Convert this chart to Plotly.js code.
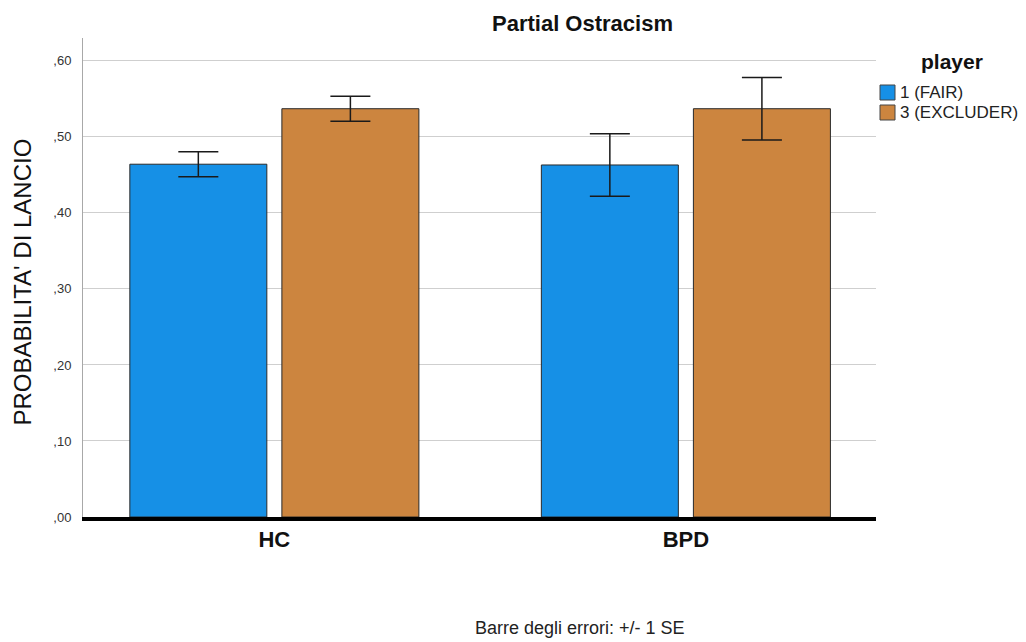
<!DOCTYPE html>
<html>
<head>
<meta charset="utf-8">
<script src="https://cdn.plot.ly/plotly-3.0.1.min.js"></script>
<style>html,body{margin:0;padding:0;background:#fff;}#chart{width:1026px;height:642px;}</style>
</head>
<body>
<div id="chart"></div>
<script>
const groups = ['HC', 'BPD'];
const seriesNames = ['1 (FAIR)', '3 (EXCLUDER)'];
const seriesColors = ['#1690e6', '#cc853f'];
const fairMeans = [0.464, 0.463];
const fairSE = [0.0165, 0.041];
const excluderMeans = [0.537, 0.537];
const excluderSE = [0.0165, 0.041];
const yTickVals = [0, 0.1, 0.2, 0.3, 0.4, 0.5, 0.6];
const yTickText = [',00', ',10', ',20', ',30', ',40', ',50', ',60'];

const FONT = 'Liberation Sans, Arial, sans-serif';
const errStyle = {type: 'data', visible: true, thickness: 1.5, width: 20, color: '#1a1a1a'};

const traces = [
  {type: 'bar', name: seriesNames[0], x: groups, y: fairMeans,
   error_y: Object.assign({array: fairSE}, errStyle),
   marker: {color: seriesColors[0], line: {color: '#2a2a2a', width: 1}}},
  {type: 'bar', name: seriesNames[1], x: groups, y: excluderMeans,
   error_y: Object.assign({array: excluderSE}, errStyle),
   marker: {color: seriesColors[1], line: {color: '#2a2a2a', width: 1}}}
];

// custom legend (swatches + labels) anchored to the right edge of the plot
const legendShapes = seriesColors.map((c, i) => ({
  type: 'rect', xref: 'paper', yref: 'paper', xsizemode: 'pixel', ysizemode: 'pixel',
  xanchor: 1, yanchor: 1, x0: 4, x1: 19, y0: -62 - 20 * i, y1: -47 - 20 * i,
  fillcolor: c, line: {color: '#444', width: 1}
}));
const legendLabels = seriesNames.map((n, i) => ({
  text: n, xref: 'paper', yref: 'paper', x: 1, xshift: 22, y: 1, yshift: -54.5 - 20 * i,
  xanchor: 'left', yanchor: 'middle', showarrow: false,
  font: {family: FONT, size: 17, color: '#222'}
}));

const layout = {
  width: 1026, height: 642,
  margin: {l: 83, r: 150, t: 38, b: 125, autoexpand: false},
  paper_bgcolor: '#ffffff', plot_bgcolor: '#ffffff',
  font: {family: FONT, color: '#222'},
  barmode: 'group', bargap: 0.261, bargroupgap: 0.099,
  showlegend: false,
  xaxis: {type: 'category', range: [-0.465, 1.462], showgrid: false,
          showline: true, linecolor: '#000', linewidth: 4, ticks: '',
          tickfont: {family: FONT, size: 22, color: '#111', weight: 'bold'},
          fixedrange: true},
  yaxis: {range: [0, 0.63], tickvals: yTickVals, ticktext: yTickText,
          showgrid: true, gridcolor: '#cfcfcf', gridwidth: 1,
          showline: true, linecolor: '#a8a8a8', linewidth: 1,
          zeroline: false, ticks: '', ticklabelstandoff: 8,
          tickfont: {family: FONT, size: 13, color: '#333'},
          fixedrange: true},
  shapes: legendShapes,
  annotations: [
    {text: "PROBABILITA' DI LANCIO", xref: 'paper', yref: 'paper', x: 0, xshift: -61, y: 0.5, yshift: -5,
     xanchor: 'center', yanchor: 'middle', textangle: -90, showarrow: false,
     font: {family: FONT, size: 24, color: '#111'}},
    {text: '<b>Partial Ostracism</b>', xref: 'paper', yref: 'paper', x: 0, xshift: 499, y: 1, yshift: 15,
     xanchor: 'center', yanchor: 'middle', showarrow: false,
     font: {family: FONT, size: 22, color: '#111'}},
    {text: '<b>player</b>', xref: 'paper', yref: 'paper', x: 1, xshift: 43, y: 1, yshift: -23,
     xanchor: 'left', yanchor: 'middle', showarrow: false,
     font: {family: FONT, size: 21, color: '#111'}},
    {text: 'Barre degli errori: +/- 1 SE', xref: 'paper', yref: 'paper', x: 0, xshift: 497, y: 0, yshift: -111,
     xanchor: 'center', yanchor: 'middle', showarrow: false,
     font: {family: FONT, size: 18, color: '#222'}}
  ].concat(legendLabels)
};

Plotly.newPlot('chart', traces, layout, {displayModeBar: false, staticPlot: true});
</script>
</body>
</html>
